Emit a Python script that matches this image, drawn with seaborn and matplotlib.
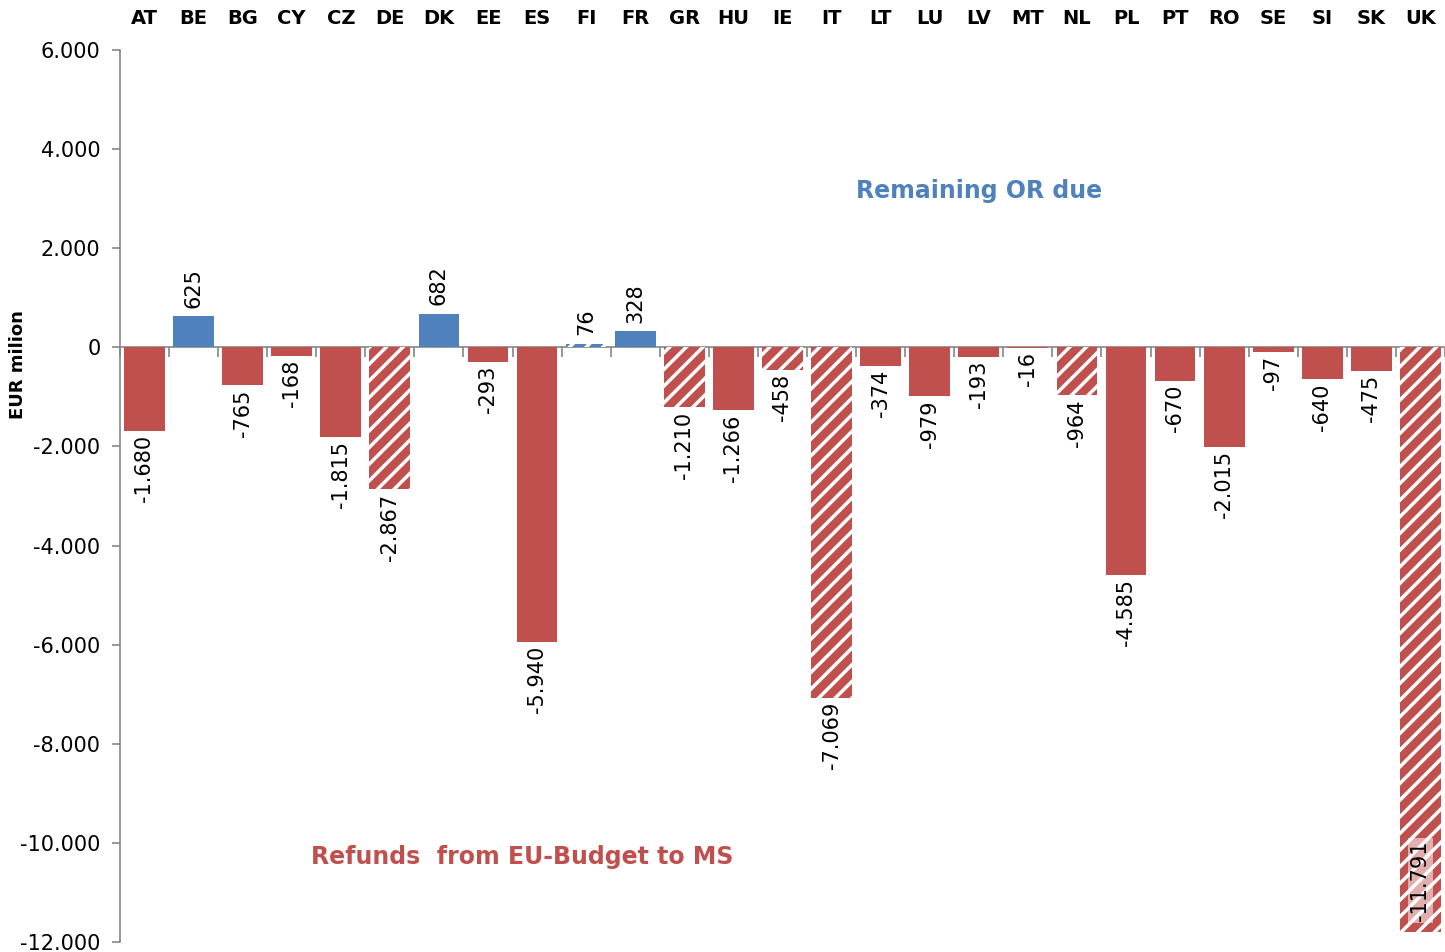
import matplotlib
matplotlib.use("Agg")
import matplotlib.pyplot as plt
import seaborn as sns
import numpy as np
import pandas as pd

countries = ["AT", "BE", "BG", "CY", "CZ", "DE", "DK", "EE", "ES", "FI", "FR", "GR", "HU", "IE",
             "IT", "LT", "LU", "LV", "MT", "NL", "PL", "PT", "RO", "SE", "SI", "SK", "UK"]
values = [-1680, 625, -765, -168, -1815, -2867, 682, -293, -5940, 76, 328, -1210, -1266, -458,
          -7069, -374, -979, -193, -16, -964, -4585, -670, -2015, -97, -640, -475, -11791]
hatched = ["DE", "FI", "GR", "IE", "IT", "NL", "UK"]
yticks = [6000, 4000, 2000, 0, -2000, -4000, -6000, -8000, -10000, -12000]

RED = "#C0504D"
BLUE = "#4F81BD"
GREY = "#868686"

sns.set_theme(style="white")
plt.rcParams["font.family"] = ["DejaVu Sans"]
plt.rcParams["hatch.linewidth"] = 2.5
plt.rcParams["text.color"] = "black"
plt.rcParams["axes.labelcolor"] = "black"
plt.rcParams["xtick.labelcolor"] = "black"
plt.rcParams["ytick.labelcolor"] = "black"

df = pd.DataFrame({"country": countries, "value": values})
palette = {c: (BLUE if v > 0 else RED) for c, v in zip(countries, values)}

fig = plt.figure(figsize=(14.45, 9.52), dpi=100)
ax = fig.add_axes([0.083, 0.0105, 0.917, 0.937])

sns.barplot(data=df, x="country", y="value", hue="country", palette=palette,
            order=countries, hue_order=countries, legend=False, width=0.83,
            saturation=1, ax=ax)

for p in ax.patches:
    idx = int(round(p.get_x() + p.get_width() / 2))
    p.set_linewidth(0)
    if countries[idx] in hatched:
        p.set_hatch("//")
        p.set_edgecolor("white")

def fmt(v):
    s = f"{abs(int(v)):,}".replace(",", ".")
    return ("-" if v < 0 else "") + s

ax.set_xlim(-0.5, len(countries) - 0.5)
ax.set_ylim(-12000, 6000)

# spines first (set_position resets ticks)
for s in ["top", "right"]:
    ax.spines[s].set_visible(False)
ax.spines["left"].set_color(GREY)
ax.spines["left"].set_linewidth(1.2)
ax.spines["bottom"].set_position(("data", 0))
ax.spines["bottom"].set_color(GREY)
ax.spines["bottom"].set_linewidth(1.2)
ax.spines["bottom"].set_zorder(0.5)

for i, v in enumerate(values):
    if countries[i] == "UK":
        ax.annotate(fmt(v), (i, v), xytext=(0, 8), textcoords="offset points",
                    rotation=90, ha="center", va="bottom", fontsize=15, color="black",
                    bbox=dict(boxstyle="square,pad=0.1", facecolor="white", alpha=0.55, linewidth=0))
    elif v < 0:
        ax.annotate(fmt(v), (i, v), xytext=(0, -3), textcoords="offset points",
                    rotation=90, ha="center", va="top", fontsize=15, color="black")
    else:
        ax.annotate(fmt(v), (i, v), xytext=(0, 6), textcoords="offset points",
                    rotation=90, ha="center", va="bottom", fontsize=15, color="black")

# y axis
ax.set_yticks(yticks)
ax.set_yticklabels([fmt(t) for t in yticks], fontsize=15, color="black")
ax.tick_params(axis="y", which="major", left=True, direction="out", length=6,
               color=GREY, width=1.2, pad=8)
ax.set_ylabel("EUR milion", fontsize=13, fontweight="bold", color="black")
ax.yaxis.set_label_coords(-0.0705, 0.647)

# x axis: labels on top, boundary ticks on zero line
ax.set_xticks(range(len(countries)))
ax.set_xticks(np.arange(-0.5, len(countries), 1.0), minor=True)
ax.tick_params(axis="x", which="major", bottom=False, labelbottom=False,
               top=True, labeltop=True, length=0, pad=16, labelsize=14, labelcolor="black")
ax.tick_params(axis="x", which="minor", bottom=True, top=False, direction="out",
               length=7, color=GREY, width=1.2)
ax.set_xticklabels(countries, fontsize=14, fontweight="bold", color="black")
for t in ax.xaxis.get_major_ticks():
    t.label2.set_fontweight("bold")
ax.set_xlabel("")

ax.text(17.0, 3150, "Remaining OR due", color=BLUE, fontsize=17, fontweight="bold",
        ha="center", va="center")
ax.text(7.7, -10280, "Refunds  from EU-Budget to MS", color=RED, fontsize=17,
        fontweight="bold", ha="center", va="center")

fig.savefig("out.png", dpi=100)
